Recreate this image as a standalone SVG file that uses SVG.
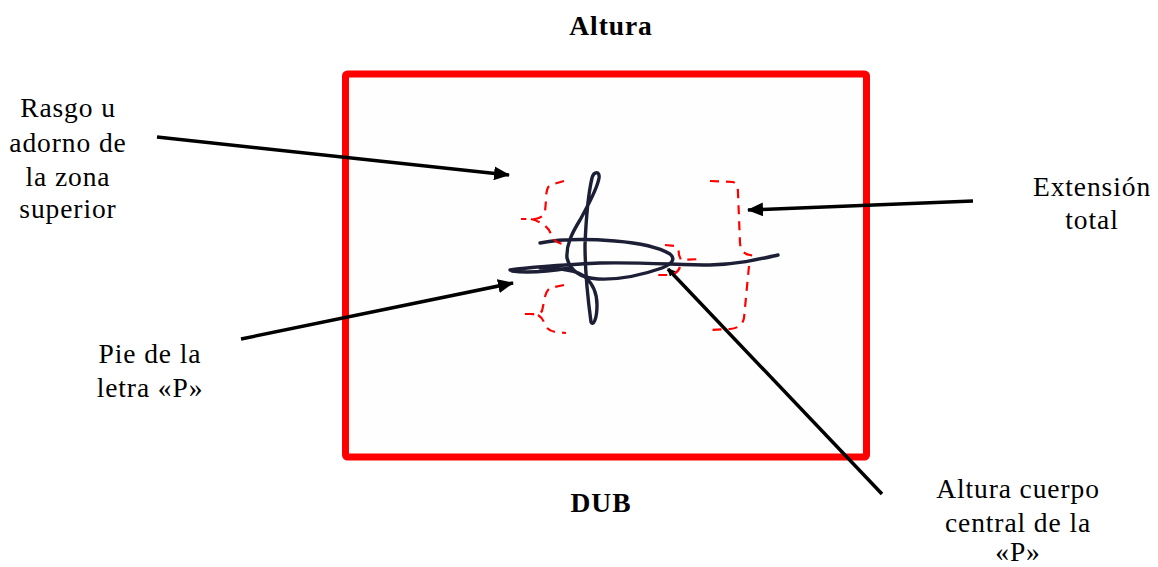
<svg xmlns="http://www.w3.org/2000/svg" width="1158" height="567" viewBox="0 0 1158 567">
<style>
.t{font-family:"Liberation Serif","Tinos","DejaVu Serif",serif;font-size:27.5px;letter-spacing:0.9px;fill:#000;text-anchor:middle}
.b{font-weight:bold}
.sig{fill:none;stroke:#1c1f35;stroke-width:3.4;stroke-linecap:round;stroke-linejoin:round}
.br{fill:none;stroke:#ff0000;stroke-width:2.2;stroke-dasharray:9,7}
.ar{fill:none;stroke:#000;stroke-width:3.5}
</style>
<defs>
<marker id="ah" viewBox="0 0 16 14" refX="15" refY="7" markerWidth="16" markerHeight="14" markerUnits="userSpaceOnUse" orient="auto">
<path d="M0,0 L16,7 L0,14 Z" fill="#000"/>
</marker>
<marker id="ahs" viewBox="0 0 8 8" refX="7" refY="4" markerWidth="8" markerHeight="8" markerUnits="userSpaceOnUse" orient="auto">
<path d="M0,0 L8,4 L0,8 Z" fill="#000"/>
</marker>
</defs>
<rect width="1158" height="567" fill="#fff"/>
<g id="frame">
<rect x="345.5" y="74" width="521" height="383" rx="2" fill="#fefefe" stroke="#ff0000" stroke-width="7"/>
</g>
<g id="signature">
<path class="sig" d="M540,243 C560,239 590,239 615,241 C640,243 660,248 670,254 C676,259 672,264 662,268 C645,274 620,280 598,279 C580,278 570,270 567,258 C566,245 572,233 580,220 C588,205 597,190 599,178 C600,171 594,171 592,178 C588,195 586,220 585,245 C585,270 588,300 591,322 C593,326 597,320 597,305 C597,292 592,283 585,277 C578,271 565,268 540,268"/>
<path class="sig" d="M510,270 C530,267 560,265 600,263 C640,262 680,265 710,265 C740,264 760,259 778,255"/>
<path class="sig" d="M512,271 C525,273 545,272 570,268" stroke-width="2.2"/>
</g>
<g id="braces">
<path class="br" d="M564,181 L550,185 Q546,188 546,200 L545,212 Q543,218 535,219 L521,219 M531,219 Q543,222 549,230 L553,238 Q556,243 563,244"/>
<path class="br" d="M564,285 L550,288 Q545,292 544,302 L542,311 Q539,315 531,314 L524,314 M538,315 Q543,318 545,325 Q548,331 556,332 L566,333"/>
<path class="br" d="M710,181 L733,182 Q738,184 738,193 L740,243 Q741,254 750,255 L756,256 M749,266 L744,318 Q742,328 730,329 L709,330"/>
<path class="br" d="M665,245 L675,246 Q679,248 679,255 L681,260 L701,259 M680,267 Q677,275 668,275 L654,275" stroke-dasharray="7,5"/>
</g>
<g id="connectors">
<line class="ar" x1="157" y1="137" x2="509" y2="175" marker-end="url(#ah)"/>
<line class="ar" x1="973" y1="201" x2="748" y2="210" marker-end="url(#ah)"/>
<line class="ar" x1="241" y1="339" x2="513" y2="283" marker-end="url(#ah)"/>
<line class="ar" x1="882" y1="494" x2="668" y2="269" marker-end="url(#ahs)"/>
</g>
<g id="label-altura"><text class="t b" x="611" y="35">Altura</text></g>
<g id="label-dub"><text class="t b" x="601" y="512">DUB</text></g>
<g id="label-rasgo">
<text class="t" x="68" y="117">Rasgo u</text>
<text class="t" x="68" y="152">adorno de</text>
<text class="t" x="68" y="186">la zona</text>
<text class="t" x="68" y="218">superior</text>
</g>
<g id="label-extension">
<text class="t" x="1092" y="196">Extensión</text>
<text class="t" x="1092" y="229">total</text>
</g>
<g id="label-pie">
<text class="t" x="150" y="363">Pie de la</text>
<text class="t" x="150" y="397">letra «P»</text>
</g>
<g id="label-cuerpo">
<text class="t" x="1018" y="498">Altura cuerpo</text>
<text class="t" x="1018" y="532">central de la</text>
<text class="t" x="1018" y="561">«P»</text>
</g>
</svg>
